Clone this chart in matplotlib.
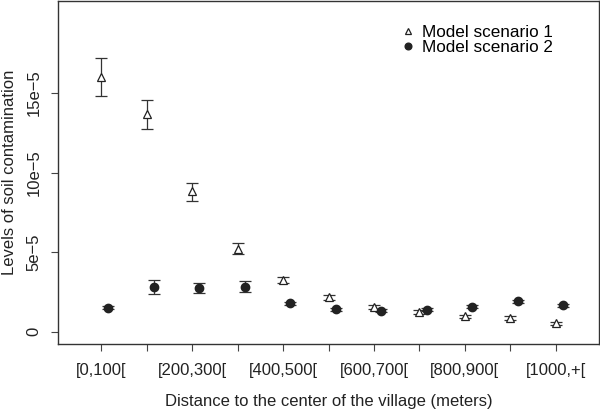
import numpy as np
import matplotlib.pyplot as plt

plt.rcParams['font.family'] = ['Liberation Sans', 'DejaVu Sans']

# distance classes (meters)
categories = ["[0,100[", "[100,200[", "[200,300[", "[300,400[", "[400,500[",
              "[500,600[", "[600,700[", "[700,800[", "[800,900[", "[900,1000[",
              "[1000,+["]

# soil contamination levels, units of 1e-5
scen1 = [16.04, 13.66, 8.83, 5.23, 3.24, 2.16, 1.53, 1.22, 0.97, 0.86, 0.53]
scen1_lo = [14.80, 12.72, 8.20, 4.87, 3.04, 2.00, 1.40, 1.10, 0.86, 0.76, 0.43]
scen1_hi = [17.19, 14.54, 9.37, 5.58, 3.44, 2.32, 1.66, 1.34, 1.08, 0.96, 0.63]

scen2 = [1.51, 2.79, 2.72, 2.82, 1.78, 1.42, 1.32, 1.38, 1.57, 1.91, 1.66]
scen2_lo = [1.40, 2.38, 2.43, 2.49, 1.67, 1.32, 1.22, 1.28, 1.47, 1.81, 1.56]
scen2_hi = [1.62, 3.22, 3.04, 3.16, 1.89, 1.52, 1.42, 1.48, 1.67, 2.01, 1.76]


def main():
    x = np.arange(1, len(categories) + 1)
    s1 = np.array(scen1) * 1e-5
    s2 = np.array(scen2) * 1e-5
    e1 = [s1 - np.array(scen1_lo) * 1e-5, np.array(scen1_hi) * 1e-5 - s1]
    e2 = [s2 - np.array(scen2_lo) * 1e-5, np.array(scen2_hi) * 1e-5 - s2]

    fig = plt.figure(figsize=(6, 4.09), dpi=100)
    ax = fig.add_axes([0.097, 0.159, 0.901, 0.839])
    col = '#222222'

    ax.errorbar(x, s1, yerr=e1, fmt='^', mfc='white', mec=col, ms=5.5,
                mew=0.9, ecolor='#333333', elinewidth=0.9, capsize=4,
                capthick=0.9, label='Model scenario 1')
    ax.errorbar(x + 0.16, s2, yerr=e2, fmt='o', mfc=col, mec=col, ms=6,
                ecolor='#333333', elinewidth=0.9, capsize=4, capthick=0.9,
                label='Model scenario 2')

    ax.set_xlim(0.055, 11.945)
    ax.set_ylim(-0.77e-5, 20.8e-5)

    ax.set_xticks(x)
    ax.set_xticklabels([c if i % 2 == 0 else '' for i, c in enumerate(categories)])
    yt = np.array([0, 5, 10, 15]) * 1e-5
    ax.set_yticks(yt)
    ax.set_yticklabels(['0', '5e\u22125', '10e\u22125', '15e\u22125'],
                       rotation=90, va='center')
    ax.tick_params(direction='out', length=5, width=0.8, colors='#444444',
                   labelcolor='#222222', labelsize=12)
    ax.tick_params(axis='x', pad=9)
    ax.tick_params(axis='y', pad=7)

    for sp in ax.spines.values():
        sp.set_color('#333333')
        sp.set_linewidth(1.0)

    ax.set_xlabel('Distance to the center of the village (meters)',
                  fontsize=12, color='#222222', labelpad=11)
    ax.set_ylabel('Levels of soil contamination', fontsize=12,
                  color='#222222', labelpad=7)

    hs, ls = ax.get_legend_handles_labels()
    hs = [h[0] for h in hs]
    ax.legend(hs, ls, loc='upper left', bbox_to_anchor=(0.637, 0.93),
              frameon=False, fontsize=12.3, handlelength=0.6,
              handletextpad=0.55, labelspacing=0.02, markerscale=0.8,
              borderaxespad=0, borderpad=0)

    fig.savefig('out.png', dpi=100)


if __name__ == "__main__":
    main()
